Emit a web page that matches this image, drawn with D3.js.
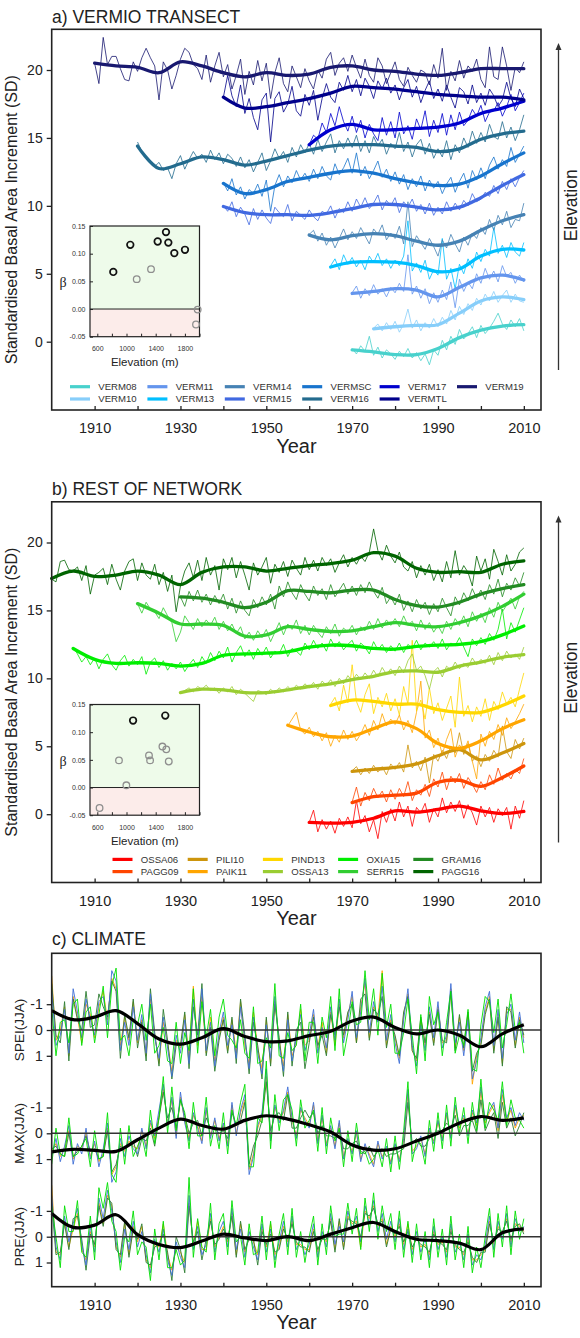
<!DOCTYPE html>
<html><head><meta charset="utf-8">
<script src="https://cdn.jsdelivr.net/npm/d3@7"></script>
<style>body{margin:0;background:#fff}svg{display:block;font-family:"Liberation Sans",Arial,sans-serif}</style>
</head><body><svg id="chart" width="580" height="1338"></svg>
<script>
// ---------------- PANEL A DATA (Vermio transect) ----------------
const vermNames = ["VERM08","VERM10","VERM11","VERM13","VERM14","VERM15","VERMSC","VERM16","VERM17","VERMTL","VERM19"];
const vermColors = ["#48d1cc","#87cefa","#6495ed","#00bfff","#4682b4","#4169e1","#1874cd","#236b8e","#0000cd","#00008b","#191970"];
const vermStart = [1970,1975,1970,1965,1960,1940,1940,1920,1960,1940,1910];
const VERM08 = [-0.5,-0.9,-0.3,-0.7,0.4,-1.0,-0.4,-1.2,-0.6,-0.9,-1.3,-0.7,-1.1,-0.5,-1.2,-0.8,-1.4,-0.9,-1.7,-0.6,-1.0,0.1,-0.6,0.4,-0.2,0.9,0.2,0.6,1.1,0.3,1.2,0.6,1.0,1.5,2.1,1.3,0.9,1.6,1.1,1.7,0.8];
const VERM10 = [1.0,1.3,0.8,1.4,0.9,1.5,0.7,1.3,2.4,1.0,1.6,0.8,1.4,1.0,1.7,1.1,1.8,1.3,2.3,1.6,2.6,2.0,2.8,2.3,3.2,2.7,3.5,3.0,3.7,2.9,3.4,3.8,2.9,3.5,3.0,2.9];
const VERM11 = [3.6,4.1,3.2,3.9,3.4,4.2,3.5,3.9,3.3,4.0,3.6,4.3,3.7,6.4,3.5,4.1,3.2,3.9,2.8,3.6,2.9,3.8,3.1,4.4,2.5,4.6,3.7,4.4,3.9,5.0,4.3,5.4,4.6,5.2,4.4,5.6,4.8,5.1,4.3,4.9,4.4];
const VERM13 = [5.6,6.1,5.3,6.4,5.7,6.2,5.5,6.0,5.3,6.3,5.8,6.5,5.6,6.1,5.4,6.0,5.6,6.3,8.9,5.2,5.8,5.1,6.0,4.6,5.3,4.9,7.6,4.6,5.4,3.9,5.7,5.0,6.1,5.4,6.6,5.9,6.8,6.3,8.4,6.5,7.1,6.2,7.3,6.6,6.3,7.3];
const VERM14 = [7.9,8.2,7.4,8.0,7.1,7.7,6.9,7.6,8.3,7.5,8.1,7.6,8.4,7.8,7.2,8.3,7.9,8.6,7.5,8.0,7.6,8.5,7.2,10.3,7.0,7.8,7.3,6.8,7.6,7.0,6.3,7.5,6.9,7.9,7.2,6.6,7.7,7.1,8.0,7.6,8.4,7.9,9.0,8.2,9.3,8.6,9.6,8.4,9.0,8.9,10.2];
const VERM15 = [10.0,9.6,10.3,9.2,9.9,9.4,8.6,9.8,9.0,9.7,9.1,8.7,9.9,9.5,9.2,10.1,8.9,9.6,9.3,9.0,9.7,9.2,8.9,9.6,9.4,10.0,9.1,9.8,9.5,10.3,9.6,10.5,9.9,10.6,9.8,10.2,10.8,9.7,10.4,10.0,10.6,9.5,10.3,9.9,10.5,9.6,10.1,9.4,10.2,9.3,9.9,9.4,10.3,9.6,10.2,9.7,10.4,10.0,10.9,10.3,10.5,11.0,10.7,11.5,10.9,11.8,11.2,12.0,11.4,12.1,12.6];
const VERMSC = [11.7,11.1,12.0,10.8,11.4,10.5,11.2,10.9,11.6,10.7,11.9,9.6,11.5,12.3,11.4,12.2,11.7,12.6,11.9,12.4,11.8,12.7,12.0,12.9,12.2,11.9,13.1,12.3,12.8,13.5,12.4,13.9,12.2,12.9,12.0,12.6,13.3,12.1,12.7,11.8,12.5,11.6,12.3,11.2,12.0,11.4,12.2,11.1,11.9,11.3,11.8,10.9,11.6,12.1,11.0,11.8,12.4,11.3,12.6,11.9,12.8,12.0,13.0,13.6,12.7,13.4,12.9,14.3,13.2,13.8,14.4];
const VERM16 = [14.7,14.0,13.6,13.3,12.9,13.2,12.6,12.8,12.0,13.1,13.7,12.7,13.4,14.0,13.5,13.8,13.2,14.1,13.4,13.9,13.1,13.8,13.5,12.9,13.6,12.8,13.4,12.5,13.2,13.9,12.6,13.3,14.2,13.5,14.0,13.2,14.3,13.6,14.5,13.9,14.6,13.8,14.9,14.0,14.7,15.3,13.9,14.8,14.2,15.0,14.3,15.2,14.0,14.8,13.9,15.1,14.4,14.9,13.8,14.6,14.2,15.4,14.0,14.7,13.6,14.5,14.9,13.8,14.6,13.5,14.2,13.6,14.8,13.4,14.5,13.9,15.0,14.3,15.5,14.6,15.4,14.7,16.0,15.1,14.9,16.2,15.0,15.8,14.8,15.6,16.7];
const VERM17 = [14.5,15.2,14.9,16.1,15.4,16.8,15.9,17.3,16.2,15.5,16.6,15.4,16.3,15.0,16.0,15.3,14.8,16.5,15.2,16.2,15.0,16.9,15.3,15.9,14.9,16.4,15.6,17.0,15.1,16.3,15.4,16.8,15.2,16.7,15.6,16.9,15.9,16.3,17.1,16.6,17.4,16.2,16.9,17.0,17.6,16.6,17.3,18.2,17.0,17.6,18.3];
const VERMTL = [18.0,19.6,18.1,17.3,18.9,16.8,17.9,16.5,15.6,17.8,18.3,14.7,17.9,18.4,16.9,17.5,18.8,17.0,16.6,18.2,17.4,18.5,16.3,17.9,19.0,18.0,17.6,19.1,18.5,19.6,18.4,19.3,18.1,19.4,18.8,17.9,19.2,18.6,19.4,18.3,18.9,17.8,18.7,19.3,18.0,18.8,17.6,18.5,19.2,17.9,18.6,17.7,18.9,18.0,17.2,18.7,18.4,17.5,18.9,17.6,18.3,17.4,18.6,18.1,17.3,17.8,19.1,17.9,17.3,18.6,17.9];
const VERM19 = [20.5,19.0,22.4,20.4,21.0,21.0,20.1,19.3,19.2,20.6,19.9,20.9,21.6,20.9,20.3,17.8,20.6,20.0,18.6,19.6,20.8,21.6,21.3,20.4,20.1,19.3,21.1,19.1,20.3,21.3,19.5,20.4,18.6,19.6,20.8,18.2,19.9,18.9,20.7,19.2,20.5,17.9,19.8,20.9,19.0,18.4,20.3,19.5,18.7,20.1,19.2,18.6,20.0,19.4,20.8,21.3,19.6,20.5,20.9,19.9,21.1,20.2,19.4,20.8,19.6,19.1,20.9,20.3,19.0,19.8,20.6,19.3,18.8,20.2,19.6,19.1,20.0,19.8,18.9,20.4,19.4,21.6,18.5,19.9,19.2,20.7,19.4,20.3,19.9,20.8,19.3,18.7,21.7,19.5,19.3,21.7,20.3,18.5,20.2,19.8,20.6];
// smoothed curves, one value every 5 years from each series' first year
const VERM08_smooth = [-0.6,-0.75,-0.95,-0.95,-0.5,0.3,0.85,1.15,1.25];
const VERM10_smooth = [0.95,1.1,1.2,1.25,2.1,3.0,3.3,3.1];
const VERM11_smooth = [3.55,3.7,3.9,3.8,3.3,4.0,4.7,4.9,4.55];
const VERM13_smooth = [5.5,5.85,5.9,5.85,5.6,5.15,5.35,6.3,6.8,6.75];
const VERM14_smooth = [7.85,7.5,7.8,7.95,7.8,7.4,7.1,7.4,8.2,8.9,9.35];
const VERM15_smooth = [9.95,9.5,9.35,9.35,9.3,9.5,9.8,10.1,10.1,9.9,9.7,9.9,10.6,11.5,12.3];
const VERMSC_smooth = [11.65,10.9,11.2,11.8,12.1,12.4,12.6,12.4,12.0,11.7,11.5,11.6,12.2,13.1,13.9];
const VERM16_smooth = [14.4,12.75,13.1,13.6,13.4,13.0,13.3,13.7,14.1,14.4,14.5,14.5,14.4,14.3,14.0,14.2,14.9,15.3,15.5];
const VERM17_smooth = [14.5,15.6,16.0,15.6,15.6,15.7,15.8,16.1,16.8,17.2,17.7];
const VERMTL_smooth = [18.0,17.2,17.3,17.6,17.9,18.3,18.8,18.7,18.6,18.4,18.2,18.1,18.0,18.0,17.8];
const VERM19_smooth = [20.5,20.3,20.2,19.8,20.6,20.3,19.8,19.5,19.8,19.6,19.7,20.2,20.3,20.0,19.9,19.7,19.6,19.8,20.1,20.1,20.1];
const vermLegendCols = [["VERM08","VERM10"],["VERM11","VERM13"],["VERM14","VERM15"],["VERMSC","VERM16"],["VERM17","VERMTL"],["VERM19"]];
// inset a: elevation (m) vs beta
const insetA_elev = [819,1052,1140,1336,1427,1541,1573,1655,1801,1975,1952];
const insetA_beta = [0.067,0.116,0.054,0.072,0.122,0.139,0.120,0.101,0.107,-0.001,-0.028];
const insetA_sig  = [1,1,0,0,1,1,1,1,1,0,0];

// ---------------- PANEL B DATA (rest of network) ----------------
const netNames = ["OSSA06","PAGG09","PILI10","PAIK11","PIND13","OSSA13","OXIA15","SERR15","GRAM16","PAGG16"];
const netColors = ["#ff0000","#ff4500","#cd950c","#ffa500","#ffd700","#9acd32","#00ee00","#32cd32","#228b22","#006400"];
const netStart = [1960,1970,1970,1955,1965,1930,1905,1920,1930,1900];
const OSSA06 = [-0.6,0.3,-1.3,-0.4,-1.1,-0.5,-1.4,-0.3,-0.9,-0.2,-1.0,1.0,-0.7,-0.1,-1.3,-0.4,-1.8,0.2,-0.6,0.4,-0.5,0.9,-0.2,0.6,-0.9,0.5,0.1,0.8,-0.6,0.4,-0.2,1.2,0.1,0.9,0.2,1.0,-0.3,0.7,0.1,-0.8,0.6,-0.2,0.5,-0.6,0.4,-0.1,0.5,-1.1,0.6,-0.3,1.0];
const PAGG09 = [0.9,2.0,0.6,1.6,1.0,1.9,1.2,1.7,0.9,1.8,1.1,1.9,1.3,2.4,1.0,1.8,1.4,2.2,1.3,2.6,2.0,3.1,1.8,2.8,2.3,3.0,1.9,2.7,2.2,1.6,2.4,1.8,2.9,2.2,3.4,2.5,3.0,2.6,3.3,3.0,4.1];
const PILI10 = [3.2,3.5,2.9,3.4,3.0,3.6,3.1,3.5,2.9,3.7,3.3,3.8,3.1,5.1,3.4,3.9,3.2,4.2,2.3,4.4,3.9,4.7,4.1,5.0,4.5,6.0,4.4,5.2,3.9,4.3,3.5,4.4,3.9,4.7,4.2,6.5,4.6,4.1,5.5,4.8,5.6];
const PAIK11 = [6.5,7.0,7.5,6.2,5.9,6.4,5.7,6.1,5.4,6.0,5.0,5.8,5.3,6.2,5.5,6.1,5.4,5.9,6.6,5.8,6.9,6.2,7.4,6.5,7.0,6.6,7.3,6.2,6.9,6.0,7.5,9.8,5.6,6.2,4.9,5.6,4.4,5.5,6.3,4.2,5.1,4.6,5.4,3.9,2.6,5.9,5.0,6.1,5.5,6.6,5.8,7.1,6.3,6.8,7.4,8.1];
const PIND13 = [8.1,8.6,7.6,9.5,8.2,11.0,8.3,7.5,8.8,9.6,7.4,8.6,7.9,8.9,7.6,8.5,7.3,9.4,8.1,12.8,7.6,8.4,7.0,9.3,7.4,8.2,6.9,7.8,8.7,6.4,10.1,7.2,8.0,6.8,7.9,7.2,8.5,6.9,8.3,7.7,9.0,8.1,8.6,7.9,9.2,10.4];
const OSSA13 = [8.9,9.1,9.3,9.0,9.4,9.2,9.5,9.1,9.3,8.9,9.3,9.0,9.4,8.8,9.2,8.9,8.6,8.3,9.1,9.0,8.8,9.2,8.9,9.3,9.0,9.4,9.1,9.5,9.2,9.6,9.3,9.7,9.2,9.8,9.5,9.9,9.4,10.0,9.6,10.2,9.8,10.3,9.9,10.4,10.0,10.6,10.1,10.8,10.3,10.7,10.2,10.9,10.4,11.3,11.8,10.6,10.9,10.2,9.2,10.5,10.8,10.1,10.9,10.6,11.2,10.7,11.1,10.8,11.5,11.0,11.4,11.1,11.7,11.0,11.9,11.3,12.0,11.5,11.8,11.4,12.3];
const OXIA15 = [12.3,11.8,11.2,11.6,11.0,11.5,10.7,11.4,11.8,11.0,10.6,11.3,11.7,10.9,11.4,11.0,11.6,10.3,11.2,11.5,10.8,11.3,10.6,11.1,10.7,11.2,10.5,11.0,11.4,10.8,11.6,11.1,11.9,11.3,12.0,11.5,12.3,11.2,11.9,12.4,11.6,12.1,11.4,12.2,11.7,12.3,11.5,12.0,11.8,12.5,11.6,12.2,12.0,11.7,12.6,12.1,12.8,12.2,12.6,12.0,12.9,12.3,12.7,12.1,12.5,12.8,12.0,12.6,12.3,11.8,12.7,12.1,12.5,11.9,12.4,12.0,12.6,11.9,12.5,12.2,12.8,12.1,12.6,12.3,12.7,12.2,12.9,12.1,12.6,12.4,13.0,12.3,11.6,12.9,12.4,13.0,12.5,13.3,12.8,13.6,15.1,12.9,14.1,13.4,14.3,15.2];
const SERR15 = [15.5,14.8,15.6,15.1,14.9,14.4,15.2,14.6,14.1,12.7,13.4,14.6,14.1,13.6,14.4,13.8,14.3,13.9,14.5,13.6,14.2,13.5,14.0,13.3,13.8,12.9,13.4,12.8,13.5,13.0,13.6,12.7,13.4,14.1,13.2,14.0,13.6,14.3,13.3,13.9,13.2,13.9,13.4,13.0,13.8,13.3,14.0,13.1,13.7,13.4,13.9,13.2,13.8,13.5,14.2,13.6,14.4,13.7,14.3,13.9,14.4,13.8,14.6,13.9,14.2,13.5,14.3,13.6,14.1,13.4,13.9,13.3,14.2,13.6,14.4,13.9,14.6,13.8,14.9,14.2,14.8,14.1,15.2,14.5,15.6,14.9,15.4,15.9,15.1,16.0,16.4];
const GRAM16 = [16.0,15.3,16.4,15.7,16.5,15.6,16.2,15.4,16.1,15.5,16.2,15.1,15.9,14.8,15.7,15.0,14.6,15.8,15.2,16.0,15.4,16.2,15.1,16.8,16.0,17.1,16.3,15.8,16.9,16.2,15.7,16.8,16.1,16.6,15.8,16.9,16.0,16.5,17.0,16.2,16.8,16.1,16.9,16.3,17.1,16.4,15.9,16.7,15.5,16.0,15.4,16.2,15.0,15.7,14.9,15.8,15.1,15.6,14.7,15.5,14.9,15.9,15.2,14.6,16.0,15.4,16.3,15.7,16.6,15.9,16.5,15.8,16.9,16.2,17.3,16.0,17.0,16.5,17.4,16.8,17.8];
const PAGG16 = [17.3,17.1,18.6,18.7,18.0,17.9,18.2,17.2,18.3,16.2,17.6,17.8,18.1,16.9,18.4,17.3,16.5,17.9,18.6,18.8,17.2,18.5,17.6,17.3,18.4,16.9,17.8,16.4,17.6,14.9,16.8,17.9,18.5,17.4,18.7,17.2,18.9,17.6,18.3,16.5,18.8,18.0,18.9,17.4,18.6,17.6,16.5,18.5,17.6,18.2,18.9,17.0,18.4,17.8,18.6,17.5,18.7,18.1,17.6,18.9,18.0,18.7,17.9,18.9,18.3,18.8,17.8,18.5,19.1,18.2,18.9,18.4,19.0,18.6,19.3,21.0,19.4,18.7,19.8,19.0,18.5,19.3,18.2,17.9,18.6,17.4,18.3,17.6,18.4,17.2,18.0,17.1,18.6,17.4,19.4,17.6,18.3,17.8,16.8,19.0,17.9,18.8,17.3,19.5,18.6,17.6,19.1,17.9,18.4,19.3,19.6];
const OSSA06_smooth = [-0.6,-0.65,-0.6,-0.3,0.25,0.15,0.35,0.6,0.25,0.05,0.2];
const PAGG09_smooth = [0.85,1.3,1.4,1.55,2.35,2.5,2.05,2.7,3.55];
const PILI10_smooth = [3.15,3.3,3.45,3.7,4.3,4.75,4.0,4.5,5.2];
const PAIK11_smooth = [6.55,6.05,5.7,5.75,6.3,6.8,6.3,5.2,4.85,5.4,6.3,6.95];
const PIND13_smooth = [8.0,8.4,8.3,8.1,8.1,7.7,7.5,7.5,8.0,8.7];
const OSSA13_smooth = [8.95,9.2,9.15,8.95,8.95,9.15,9.4,9.6,9.9,10.15,10.5,10.55,10.45,10.9,11.2,11.55,11.75];
const OXIA15_smooth = [12.2,11.4,11.1,11.15,11.1,10.9,11.1,11.7,11.8,11.85,11.95,12.3,12.45,12.4,12.2,12.15,12.35,12.45,12.5,12.7,13.2,13.85];
const SERR15_smooth = [15.5,14.8,14.0,14.0,13.9,13.1,13.2,13.8,13.6,13.45,13.5,13.8,14.1,13.9,13.8,14.1,14.6,15.3,16.2];
const GRAM16_smooth = [16.0,15.9,15.6,15.2,15.6,16.45,16.4,16.3,16.5,16.5,15.8,15.35,15.25,15.6,16.2,16.6,16.9];
const PAGG16_smooth = [17.35,17.9,17.5,17.6,17.9,17.6,16.9,17.8,18.2,18.2,17.9,18.1,18.3,18.45,18.7,19.25,19.0,18.1,17.8,17.85,17.8,18.4,18.65];
const netLegendCols = [["OSSA06","PAGG09"],["PILI10","PAIK11"],["PIND13","OSSA13"],["OXIA15","SERR15"],["GRAM16","PAGG16"]];
const insetB_elev = [631,897,998,1090,1308,1323,1492,1545,1531,1579];
const insetB_beta = [-0.037,0.049,0.004,0.121,0.058,0.049,0.074,0.069,0.130,0.047];
const insetB_sig  = [0,0,0,1,0,0,0,0,1,0];

// ---------------- PANEL C DATA (climate, 1900-2010) ----------------
const climStart = 1900;
const climColors = ["#ffa500","#2e7d32","#3f6fd6","#00e000"]; // orange, dark green, blue, lime sites
const speiOrange = [-2.1,0.4,0.0,-0.9,1.0,-1.3,-0.5,0.5,-1.0,-0.6,0.3,-0.9,-1.5,-0.4,-2.0,-1.6,0.6,-0.5,0.4,-1.1,0.5,-0.4,1.0,-1.2,0.2,1.3,-0.3,0.5,1.6,0.4,0.7,-0.6,1.1,-1.7,0.6,-1.3,0.9,-0.5,1.2,0.3,-0.5,0.8,-0.4,0.9,-1.1,0.6,1.3,-0.7,0.7,1.5,-0.4,1.3,-1.1,0.4,1.4,-0.6,1.0,0.5,-0.8,0.6,0.4,-0.6,0.7,-0.3,0.9,-0.7,0.6,-1.0,0.3,-0.6,-1.3,0.5,-0.9,-1.8,0.3,-0.9,-0.5,-2.3,0.6,-0.4,0.3,1.1,-0.6,-1.4,0.8,1.2,-0.4,0.6,-0.7,0.5,-0.9,0.5,0.4,-1.6,0.7,-0.5,0.8,-0.6,2.1,1.0,0.5,-0.7,-1.3,0.8,-0.6,1.3,-0.8,-0.8,0.6,-0.5,0.3];
const speiDark = [-1.8,0.2,0.5,-1.1,1.2,-1.2,-0.4,0.0,-1.5,-0.1,-0.2,-1.4,-0.9,-0.5,-1.9,-1.5,1.1,-0.6,0.3,-1.2,0.7,-0.3,1.2,-1.6,0.1,1.4,-0.8,0.4,1.9,0.6,0.6,-0.7,1.5,-0.9,0.2,-1.8,1.0,-0.1,1.6,0.4,-0.4,0.9,-0.5,1.3,-1.2,0.2,1.7,-0.3,0.6,1.9,-0.5,1.4,-1.0,0.3,1.8,-0.7,1.4,0.0,-0.3,1.5,0.5,-0.5,0.6,0.2,1.0,-0.6,0.2,-0.9,0.2,-0.7,-1.0,0.5,-1.2,-1.4,0.4,-0.8,-0.6,-1.3,0.7,-0.3,0.2,1.0,-0.7,-1.3,0.8,1.1,-0.5,0.5,-0.6,0.6,-0.8,0.4,0.5,-1.5,0.8,-0.6,0.7,-0.7,1.6,0.9,0.6,-0.6,-1.2,0.9,-0.5,1.4,-0.9,-0.7,0.7,-0.4,0.2];
const speiBlue = [-1.5,0.6,0.2,-0.8,0.9,-1.6,-0.7,0.3,-1.2,-0.4,0.2,-1.1,-1.3,-0.2,-2.3,-1.9,0.8,-0.3,0.6,-0.9,0.4,-0.6,0.9,-1.4,0.3,1.1,-0.5,0.7,1.8,0.2,0.9,-0.4,1.3,-1.2,0.5,-1.6,0.8,-0.3,1.4,0.1,-0.7,0.6,-0.2,1.1,-0.9,0.4,1.5,-0.5,0.9,1.7,-0.2,1.1,-1.3,0.6,1.6,-0.4,1.2,0.3,-0.6,0.8,0.2,-0.8,0.9,-0.1,0.7,-0.9,0.4,-1.2,0.5,-0.4,-1.5,0.3,-0.7,-2.0,0.1,-1.1,-0.3,-1.7,0.4,-0.6,0.5,1.3,-0.4,-1.6,0.6,1.4,-0.2,0.8,-0.9,0.3,-1.1,0.7,0.2,-1.8,0.5,-0.3,1.0,-0.4,1.9,1.2,0.3,-0.9,-1.5,0.6,-0.8,1.1,-0.6,-1.0,0.4,-0.7,0.5];
const speiLime = [-0.9,1.0,-0.3,-0.4,0.5,-1.0,-1.2,0.6,-0.7,-0.9,0.5,-0.6,-1.7,0.3,-1.7,-2.4,0.4,0.2,1.0,-0.4,-0.2,-1.0,0.4,-1.0,0.9,0.6,-0.1,1.2,1.3,-0.3,1.3,0.1,0.8,-1.6,0.9,-1.1,0.3,-0.8,1.0,-0.5,-1.2,0.2,0.4,0.7,-0.4,0.9,1.1,-0.9,1.3,1.2,0.3,0.7,-1.8,1.0,1.1,0.1,0.8,0.6,-1.0,1.2,-0.3,-0.3,1.3,-0.5,0.3,-1.3,0.8,-1.6,1.0,0.1,-1.1,-0.2,-0.3,-2.3,-0.4,-1.6,0.2,-2.2,-0.1,-1.0,0.9,0.9,0.1,-1.2,0.2,1.7,-0.6,1.2,-1.3,-0.2,-0.7,1.0,-0.3,-1.5,0.9,0.2,0.6,-0.8,1.5,1.6,-0.2,-1.3,-1.1,0.1,-1.2,0.7,-0.2,-1.4,0.0,-0.3,0.9];
const maxOrange = [0.7,0.4,0.9,0.6,-0.1,1.0,0.5,0.6,0.0,0.9,0.4,1.1,0.8,-0.2,1.6,1.3,0.4,0.7,0.3,0.5,0.6,-0.1,0.5,-0.4,0.2,-0.7,-1.7,-0.4,-1.3,0.1,-1.4,-0.5,0.2,-0.7,-0.3,0.3,-0.9,0.1,-0.5,0.2,-0.3,0.4,-1.1,0.0,-0.8,-1.3,1.4,0.8,-0.2,-0.7,-2.2,0.2,-1.0,-0.5,-0.8,-1.6,-0.5,0.1,-0.9,-0.6,-0.3,-1.1,0.3,-0.6,0.4,-0.2,0.5,-0.4,0.9,0.3,0.7,0.0,1.0,0.5,0.8,1.2,0.4,0.9,0.6,1.1,0.5,1.0,0.3,-1.5,0.7,0.5,0.2,0.8,-0.1,0.3,-0.4,0.2,-0.7,0.1,-1.0,-0.2,-0.6,0.0,-0.8,-0.3,-1.6,-0.4,-0.8,-1.1,-0.1,-1.5,-0.5,-0.9,-0.2,-0.6,-0.7];
const maxDark = [0.6,0.5,0.8,0.9,0.0,0.9,0.7,0.5,0.1,0.7,0.6,1.0,0.9,-0.1,1.5,1.2,0.5,0.6,0.4,0.3,0.9,0.2,0.3,-0.2,0.5,-0.6,-1.6,-0.6,-1.0,-0.2,-1.3,-0.7,0.0,-0.4,-0.5,0.1,-0.6,-0.2,-0.2,0.0,-0.1,0.2,-0.8,-0.3,-0.5,-1.2,1.2,0.5,0.1,-0.5,-2.0,-0.1,-0.7,-0.8,-0.5,-1.5,-0.2,-0.2,-0.6,-0.9,-0.6,-0.8,0.0,-0.3,0.1,0.1,0.2,-0.1,0.6,0.6,0.4,0.3,0.7,0.8,0.5,0.9,0.7,0.6,0.9,0.8,0.8,0.7,0.6,-1.2,0.4,0.2,0.5,0.5,0.2,0.0,-0.1,-0.1,-0.4,-0.2,-0.7,0.1,-0.3,-0.3,-0.5,0.0,-1.3,-0.1,-0.5,-0.8,0.2,-1.2,-0.2,-0.6,0.1,-0.3,-0.8];
const maxBlue = [0.9,0.2,1.1,0.5,-0.3,1.2,0.4,0.8,-0.2,1.0,0.3,1.3,0.6,-0.4,1.9,1.5,0.2,0.9,0.1,0.6,0.8,-0.2,0.6,-0.5,0.1,-0.9,-1.9,-0.3,-1.4,0.2,-1.6,-0.4,0.3,-0.8,-0.2,0.4,-1.0,0.2,-0.6,0.3,-0.4,0.5,-1.2,0.1,-0.9,-1.5,1.6,0.9,-0.3,-0.8,-2.5,0.3,-1.1,-0.4,-0.9,-1.8,-0.6,0.2,-1.0,-0.5,-0.2,-1.2,0.4,-0.7,0.5,-0.3,0.6,-0.5,1.0,0.2,0.8,-0.1,1.1,0.4,0.9,1.3,0.3,1.0,0.5,1.2,0.4,1.1,0.2,-1.7,0.8,0.6,0.1,0.9,-0.2,0.4,-0.5,0.3,-0.8,0.2,-1.1,-0.3,-0.7,0.1,-0.9,-0.4,-1.8,-0.5,-0.9,-1.2,-0.2,-1.7,-0.6,-1.0,-0.3,-0.8,-0.5];
const maxLime = [1.2,-0.2,0.8,0.9,-0.6,0.9,0.8,0.5,0.2,1.3,-0.1,1.0,0.9,-0.8,1.6,1.9,-0.2,1.2,-0.3,0.9,0.5,0.1,0.9,-0.9,0.4,-0.6,-2.2,0.0,-1.8,-0.1,-1.3,-0.8,0.6,-1.2,0.1,0.1,-1.4,0.5,-0.3,0.6,-0.8,0.8,-0.9,-0.3,-1.2,-1.9,1.3,1.3,-0.6,-0.4,-2.8,0.6,-1.5,-0.1,-1.3,-1.5,-0.9,0.5,-1.3,-0.2,-0.5,-0.9,0.7,-1.0,0.8,-0.6,0.3,-0.2,1.3,-0.1,1.1,-0.4,0.8,0.7,1.2,1.0,0.6,1.3,0.2,1.5,0.1,1.4,-0.1,-2.0,1.1,0.3,0.4,1.2,-0.5,0.7,-0.8,0.6,-1.1,0.5,-1.4,0.0,-1.0,0.4,-1.2,-0.1,-2.1,-0.2,-1.2,-0.9,-0.5,-2.0,-0.3,-1.3,-0.6,-0.5,-0.2];
const preOrange = [-2.0,0.6,0.7,-0.6,0.4,-0.3,-0.9,0.5,0.9,-0.2,0.4,-1.3,-0.5,-1.6,-1.2,0.4,0.8,-0.5,0.7,-0.4,0.2,-0.4,0.9,1.2,0.3,0.4,-0.5,0.7,1.3,0.4,0.6,1.0,-1.3,0.3,-0.6,0.5,0.5,-0.7,0.4,0.0,-0.4,0.2,-0.9,0.7,-0.5,0.6,0.0,0.2,0.7,-0.3,0.4,-0.5,0.7,0.4,-0.4,0.2,-0.6,0.3,0.3,0.5,0.5,-0.3,0.6,0.0,0.2,-0.7,0.5,-0.6,0.4,-0.8,-0.5,-0.6,0.4,-1.0,-0.7,-1.2,-0.4,-0.7,0.3,-0.4,0.0,-0.5,0.3,-0.5,0.5,0.0,0.4,0.3,0.7,-0.2,0.3,0.2,0.6,-0.3,0.4,0.4,0.7,0.1,0.9,0.9,0.7,0.5,-0.6,0.3,-0.4,-0.1,-0.7,0.2,-0.5,-0.4,-0.2];
const preDark = [-1.3,0.7,0.6,-0.5,0.5,-0.7,-0.8,0.1,1.3,-0.1,0.3,-1.2,-0.4,-1.5,-1.3,0.5,0.7,-0.6,0.8,-0.3,0.1,-0.5,1.0,1.1,0.4,0.3,-0.1,0.6,1.7,0.0,0.5,1.4,-1.2,0.2,-0.2,0.9,0.1,-0.6,0.3,0.1,-0.3,0.1,-0.8,0.8,-0.6,0.5,0.1,0.1,1.1,-0.2,0.3,-0.1,0.6,0.5,-0.3,0.1,-0.5,0.2,0.4,0.4,0.6,-0.2,0.5,0.1,0.1,-0.6,0.6,-0.7,0.5,-0.7,-0.6,-0.5,0.0,-0.9,-0.8,-1.1,-0.5,-0.6,0.4,-0.3,-0.1,-0.4,0.2,-0.2,0.4,0.1,0.3,0.4,0.6,-0.1,0.2,0.3,0.5,-0.2,0.3,0.5,0.6,0.2,0.8,1.0,0.6,0.6,-0.5,0.2,-0.3,-0.2,-0.6,0.1,-0.4,-0.5,-0.1];
const preBlue = [-1.6,0.4,0.9,-0.8,0.2,-0.5,-1.1,0.3,1.1,-0.4,0.6,-1.5,-0.7,-1.8,-1.0,0.2,1.0,-0.3,0.5,-0.6,0.4,-0.2,0.7,1.4,0.1,0.6,-0.3,0.9,1.5,0.2,0.8,1.2,-1.6,0.5,-0.4,0.7,0.3,-0.9,0.6,-0.2,-0.6,0.4,-1.1,0.5,-0.3,0.8,-0.2,0.4,0.9,-0.5,0.6,-0.3,0.9,0.2,-0.6,0.4,-0.8,0.5,0.1,0.7,0.3,-0.5,0.8,-0.2,0.4,-0.9,0.3,-0.4,0.2,-1.0,-0.3,-0.8,0.2,-1.2,-0.5,-1.4,-0.2,-0.9,0.1,-0.6,0.2,-0.7,0.5,-0.3,0.7,-0.2,0.6,0.1,0.9,-0.4,0.5,0.0,0.8,-0.5,0.6,0.2,0.9,-0.1,1.1,0.7,0.9,0.3,-0.8,0.5,-0.6,0.1,-0.9,0.4,-0.7,-0.2,-0.4];
const preLime = [-1.2,0.0,1.2,-1.2,-0.2,-0.2,-1.4,0.6,0.8,-0.8,0.9,-1.9,-1.1,-2.1,-0.6,-0.2,1.3,0.0,0.2,-1.0,0.7,0.2,0.4,1.7,-0.3,0.9,-0.6,1.2,1.2,0.5,1.1,0.9,-2.3,0.8,-0.7,0.4,0.6,-1.3,0.9,-0.5,-0.9,0.7,-1.4,0.2,0.0,1.1,-0.5,0.7,0.6,-0.8,0.9,-0.6,1.2,-0.1,-0.9,0.7,-1.1,0.8,-0.2,1.0,0.0,-0.8,1.1,-0.5,0.7,-1.2,0.0,-0.1,-0.1,-1.3,-0.1,-1.1,0.5,-1.5,-0.2,-1.7,0.1,-1.2,-0.2,-0.9,0.5,-1.0,0.8,-0.6,1.0,-0.5,0.9,-0.2,1.2,-0.7,0.8,-0.3,1.1,-0.8,0.9,-0.1,1.2,-0.4,1.4,0.4,1.2,0.0,-1.1,0.8,-0.9,0.4,-1.2,0.7,-1.0,0.1,-0.7];
const speiSmooth = [-0.75,-0.4,-0.5,-0.75,-0.25,0.35,0.55,0.3,-0.05,0.25,0.45,0.42,0.22,0.05,-0.35,-0.5,-0.1,0.15,0.0,0.2,0.65,0.15,-0.2];
const maxSmooth  = [0.72,0.62,0.66,0.7,0.25,-0.2,-0.55,-0.3,-0.16,-0.5,-0.68,-0.55,-0.33,-0.05,0.45,0.65,0.6,0.3,0.0,-0.4,-0.65,-0.5,-0.6];
const preSmooth  = [-0.9,-0.36,-0.45,-0.85,-0.08,0.3,0.42,0.17,-0.1,0.05,0.15,0.0,0.15,-0.1,-0.35,-0.55,-0.2,0.1,0.15,0.25,0.5,-0.15,-0.3];
const climLabels = ["SPEI(JJA)","MAX(JJA)","PRE(JJA)"];
const climYTicks = [-1,0,1];

// ---------------- AXIS TICK LABELS ----------------
const yearTicks = [1910,1920,1930,1940,1950,1960,1970,1980,1990,2000,2010];
const yearLabels = [1910,1930,1950,1970,1990,2010];
const baiTicks = [0,5,10,15,20];
const betaTicks = [-0.05,0,0.05,0.10,0.15];
const elevTicks = [600,800,1000,1200,1400,1600,1800,2000];
const elevLabels = [600,1000,1400,1800];

// ---------------- DRAWING ----------------
const svg = d3.select("#chart");
const L = 51.7, R = 541;
const x = d3.scaleLinear().domain([1900, 2014]).range([L, R]);
const INK = "#222";

function fmtYear(d){ return yearLabels.includes(d) ? String(d) : ""; }

function panelFrame(off, title, top, bottom){
  svg.append("text").attr("x", 52).attr("y", off.title).attr("font-size", 17.5).attr("fill", INK).text(title);
  const gx = svg.append("g").attr("transform", `translate(0,${bottom})`)
    .call(d3.axisBottom(x).tickValues(yearTicks).tickSize(-4).tickPadding(13).tickFormat(fmtYear));
  gx.select(".domain").remove();
  gx.selectAll(".tick line").attr("stroke", INK).attr("stroke-width", 1.3);
  gx.selectAll("text").attr("font-size", 14.5).attr("fill", INK).attr("font-family", "Liberation Sans, Arial, sans-serif");
  svg.append("text").attr("x", (L+R)/2).attr("y", bottom + 42.5).attr("text-anchor","middle")
    .attr("font-size", 20).attr("fill", INK).text("Year");
}
function box(top, bottom){
  svg.append("rect").attr("x", L).attr("y", top).attr("width", R-L).attr("height", bottom-top)
    .attr("fill","none").attr("stroke", INK).attr("stroke-width", 1.6);
}

function growthPanel(cfg){
  const {top, bottom, y0, y20, names, colors, starts, annual, smooth, legendCols, legX, legDX, legY, titleY, title} = cfg;
  const y = d3.scaleLinear().domain([0,20]).range([y0, y20]);
  const g = svg.append("g");
  const thin = (s) => d3.line().x((d,i)=>x(s+i)).y(d=>y(d));
  const thick = (s) => d3.line().x((d,i)=>x(s+5*i)).y(d=>y(d)).curve(d3.curveCatmullRom.alpha(0.5));
  names.forEach((n,i)=>{
    g.append("path").datum(annual[i]).attr("d", thin(starts[i])).attr("fill","none")
      .attr("stroke", colors[i]).attr("stroke-width", 1).attr("stroke-opacity", 0.8).attr("stroke-linejoin","round");
  });
  names.forEach((n,i)=>{
    g.append("path").datum(smooth[i]).attr("d", thick(starts[i])).attr("fill","none")
      .attr("stroke", colors[i]).attr("stroke-width", 3.3).attr("stroke-linecap","round");
  });
  const gy = svg.append("g").attr("transform", `translate(${L},0)`)
    .call(d3.axisLeft(y).tickValues(baiTicks).tickSize(5).tickPadding(4).tickFormat(d=>String(d)));
  gy.select(".domain").remove();
  gy.selectAll(".tick line").attr("stroke", INK).attr("stroke-width", 1.3);
  gy.selectAll("text").attr("font-size", 14).attr("fill", INK).attr("font-family", "Liberation Sans, Arial, sans-serif");
  svg.append("text").attr("transform", `translate(16.5,${(top+bottom)/2}) rotate(-90)`).attr("text-anchor","middle")
    .attr("font-size", 16).attr("fill", INK).text("Standardised Basal Area Increment (SD)");
  const color = d3.scaleOrdinal().domain(names).range(colors);
  legendCols.forEach((col, ci)=>{
    col.forEach((n, ri)=>{
      const lx = legX + ci*legDX, ly = legY[ri];
      svg.append("line").attr("x1", lx).attr("x2", lx+20).attr("y1", ly).attr("y2", ly)
        .attr("stroke", color(n)).attr("stroke-width", 3.2);
      svg.append("text").attr("x", lx+28.3).attr("y", ly+3.4).attr("font-size", 9.6).attr("fill", "#333").text(n);
    });
  });
  box(top, bottom);
  panelFrame({title: titleY}, title, top, bottom);
  const ay1 = top + 13.7, ay2 = top + 340.7;
  svg.append("line").attr("x1", 558.5).attr("x2", 558.5).attr("y1", ay2).attr("y2", ay1+6)
    .attr("stroke", "#333").attr("stroke-width", 1.3);
  svg.append("path").attr("d", `M${558.5},${ay1} l-3,7 l6,0 z`).attr("fill", "#333");
  svg.append("text").attr("transform", `translate(577,${top+176}) rotate(-90)`).attr("text-anchor","middle")
    .attr("font-size", 17.5).attr("fill", INK).text("Elevation");
}

function inset(top, elev, beta, sig){
  const ix = d3.scaleLinear().domain([500,2000]).range([90,199.5]);
  const iy = d3.scaleLinear().domain([-0.05,0.15]).range([top+110.7, top]);
  svg.append("rect").attr("x", ix(500)).attr("y", iy(0.15)).attr("width", ix(2000)-ix(500)).attr("height", iy(0)-iy(0.15)).attr("fill", "#eefbea");
  svg.append("rect").attr("x", ix(500)).attr("y", iy(0)).attr("width", ix(2000)-ix(500)).attr("height", iy(-0.05)-iy(0)).attr("fill", "#fcecea");
  svg.append("line").attr("x1", ix(500)).attr("x2", ix(2000)).attr("y1", iy(0)).attr("y2", iy(0)).attr("stroke", INK).attr("stroke-width", 1);
  const gy = svg.append("g").attr("transform", `translate(${ix(500)},0)`)
    .call(d3.axisLeft(iy).tickValues(betaTicks).tickSize(-3).tickPadding(4.5).tickFormat(d=>d.toFixed(2)));
  gy.select(".domain").remove();
  gy.selectAll(".tick line").attr("stroke", INK);
  gy.selectAll("text").attr("font-size", 7).attr("fill", "#333").attr("font-family", "Liberation Sans, Arial, sans-serif");
  const gx = svg.append("g").attr("transform", `translate(0,${iy(-0.05)})`)
    .call(d3.axisBottom(ix).tickValues(elevTicks).tickSize(-3).tickPadding(9.5).tickFormat(d=>elevLabels.includes(d)?String(d):""));
  gx.select(".domain").remove();
  gx.selectAll(".tick line").attr("stroke", INK);
  gx.selectAll("text").attr("font-size", 7).attr("fill", "#333").attr("font-family", "Liberation Sans, Arial, sans-serif");
  svg.append("rect").attr("x", ix(500)).attr("y", iy(0.15)).attr("width", ix(2000)-ix(500)).attr("height", iy(-0.05)-iy(0.15))
    .attr("fill","none").attr("stroke", INK).attr("stroke-width", 1.2);
  elev.forEach((e,i)=>{
    svg.append("circle").attr("cx", ix(e)).attr("cy", iy(beta[i])).attr("r", 3.3).attr("fill","none")
      .attr("stroke", sig[i] ? "#111" : "#8e8e8e").attr("stroke-width", sig[i] ? 1.7 : 1.3);
  });
  svg.append("text").attr("x", 63).attr("y", iy(0.05)+6).attr("text-anchor","middle")
    .attr("font-size", 14).attr("font-family", "Liberation Serif, DejaVu Serif, serif").attr("fill", INK).text("β");
  svg.append("text").attr("x", (ix(500)+ix(2000))/2).attr("y", iy(-0.05)+29.5).attr("text-anchor","middle")
    .attr("font-size", 11.5).attr("fill", INK).text("Elevation (m)");
}

// Panel a
growthPanel({top:29.3, bottom:410, y0:341.7, y20:70, names:vermNames, colors:vermColors, starts:vermStart,
  annual:[VERM08,VERM10,VERM11,VERM13,VERM14,VERM15,VERMSC,VERM16,VERM17,VERMTL,VERM19],
  smooth:[VERM08_smooth,VERM10_smooth,VERM11_smooth,VERM13_smooth,VERM14_smooth,VERM15_smooth,VERMSC_smooth,VERM16_smooth,VERM17_smooth,VERMTL_smooth,VERM19_smooth],
  legendCols:vermLegendCols, legX:70, legDX:77.4, legY:[386.7,399], titleY:22.7, title:"a) VERMIO TRANSECT"});
inset(226, insetA_elev, insetA_beta, insetA_sig);

// Panel b
const OFF = 472.5;
growthPanel({top:29.3+OFF, bottom:410+OFF, y0:341.7+OFF, y20:70+OFF, names:netNames, colors:netColors, starts:netStart,
  annual:[OSSA06,PAGG09,PILI10,PAIK11,PIND13,OSSA13,OXIA15,SERR15,GRAM16,PAGG16],
  smooth:[OSSA06_smooth,PAGG09_smooth,PILI10_smooth,PAIK11_smooth,PIND13_smooth,OSSA13_smooth,OXIA15_smooth,SERR15_smooth,GRAM16_smooth,PAGG16_smooth],
  legendCols:netLegendCols, legX:112.5, legDX:75.2, legY:[859.4,871.6], titleY:22.7+OFF, title:"b) REST OF NETWORK"});
inset(226+OFF+6, insetB_elev, insetB_beta, insetB_sig);

// Panel c
const cTop = 953.3, cBot = 1286.7;
const zeros = [1030, 1133.3, 1236.7];
const unit = 25.8;
const climAnnual = [[speiOrange,speiDark,speiBlue,speiLime],[maxOrange,maxDark,maxBlue,maxLime],[preOrange,preDark,preBlue,preLime]];
const climSmooth = [speiSmooth, maxSmooth, preSmooth];
climAnnual.forEach((sets, k)=>{
  const y = d3.scaleLinear().domain([-1,1]).range([zeros[k]-unit, zeros[k]+unit]);
  const thin = d3.line().x((d,i)=>x(climStart+i)).y(d=>y(d));
  sets.forEach((arr, j)=>{
    svg.append("path").datum(arr).attr("d", thin).attr("fill","none").attr("stroke", climColors[j])
      .attr("stroke-width", 1).attr("stroke-opacity", 0.9).attr("stroke-linejoin","round");
  });
});
climAnnual.forEach((sets, k)=>{
  const y = d3.scaleLinear().domain([-1,1]).range([zeros[k]-unit, zeros[k]+unit]);
  svg.append("line").attr("x1", L).attr("x2", R).attr("y1", y(0)).attr("y2", y(0)).attr("stroke", "#333").attr("stroke-width", 1.6);
  const sm = d3.line().x((d,i)=>x(climStart+5*i)).y(d=>y(d)).curve(d3.curveCatmullRom.alpha(0.5));
  svg.append("path").datum(climSmooth[k]).attr("d", sm).attr("fill","none").attr("stroke","#000").attr("stroke-width", 3.2);
  const gy = svg.append("g").attr("transform", `translate(${L},0)`)
    .call(d3.axisLeft(y).tickValues(climYTicks).tickSize(5).tickPadding(4).tickFormat(d=>String(d)));
  gy.select(".domain").remove();
  gy.selectAll(".tick line").attr("stroke", INK).attr("stroke-width", 1.3);
  gy.selectAll("text").attr("font-size", 14).attr("fill", INK).attr("font-family", "Liberation Sans, Arial, sans-serif");
  svg.append("text").attr("transform", `translate(23.5,${zeros[k]}) rotate(-90)`).attr("text-anchor","middle")
    .attr("font-size", 13.5).attr("fill", INK).text(climLabels[k]);
});
box(cTop, cBot);
panelFrame({title: 945}, "c) CLIMATE", cTop, cBot);
</script></body></html>
